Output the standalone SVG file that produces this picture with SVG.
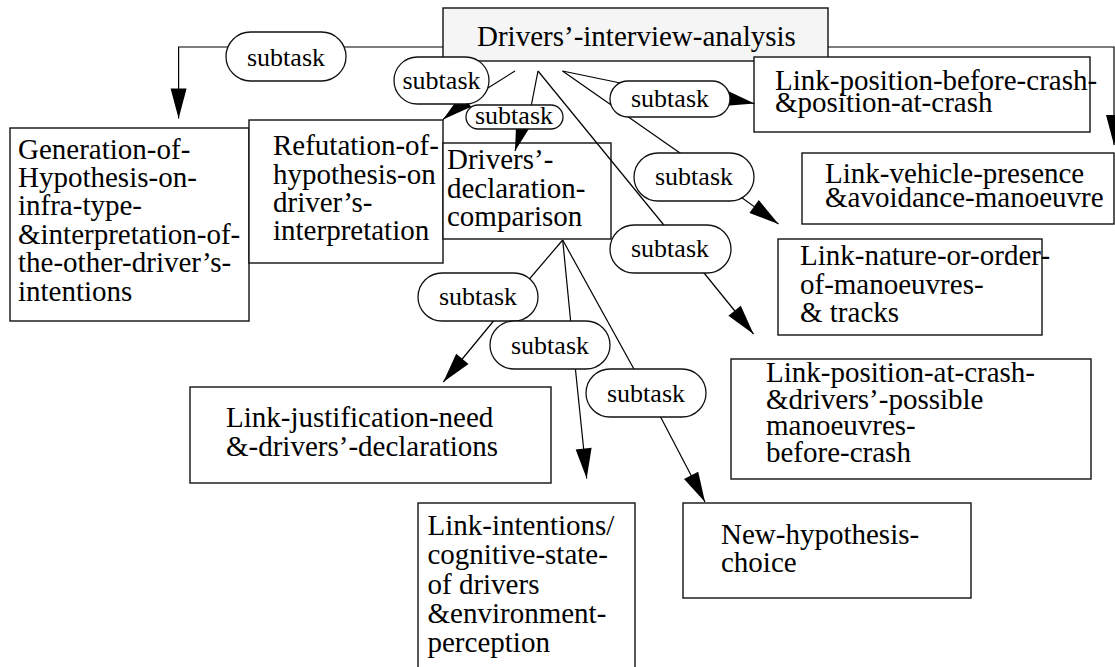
<svg xmlns="http://www.w3.org/2000/svg" width="1115" height="667" viewBox="0 0 1115 667">
<style>
.box{fill:#fff;stroke:#111;stroke-width:1.4}
.root{fill:#f5f5f5;stroke:#111;stroke-width:1.4}
.t{font-family:'Liberation Serif','DejaVu Serif',serif;font-size:29px;fill:#000}
.pl{fill:#fff;stroke:#111;stroke-width:1.3}
.pt{font-family:'Liberation Serif','DejaVu Serif',serif;font-size:26px;fill:#000;text-anchor:middle}
.c{fill:none;stroke:#000;stroke-width:1.2}
.a{marker-end:url(#ah)}
</style>
<defs>
<marker id="ah" markerUnits="userSpaceOnUse" markerWidth="30" markerHeight="16" refX="30" refY="8" orient="auto" overflow="visible">
<path d="M0,0 L30,8 L0,16 z" fill="#000"/>
</marker>
</defs>
<rect width="1115" height="667" fill="#fff"/>
<g id="root">
<rect class="root" x="443" y="8" width="385" height="53"/>
<text class="t" font-family="Liberation Serif, serif" x="477" y="46">Drivers’-interview-analysis</text>
</g>
<g id="gen">
<rect class="box" x="10" y="128" width="239" height="193"/>
<text class="t" font-family="Liberation Serif, serif"><tspan x="18" y="159">Generation-of-</tspan><tspan x="18" y="187">Hypothesis-on-</tspan><tspan x="18" y="215">infra-type-</tspan><tspan x="18" y="243.5">&amp;interpretation-of-</tspan><tspan x="18" y="272">the-other-driver’s-</tspan><tspan x="18" y="301">intentions</tspan></text>
</g>
<g id="refutation">
<rect class="box" x="249" y="120" width="194" height="143"/>
<text class="t" font-family="Liberation Serif, serif"><tspan x="273" y="155">Refutation-of-</tspan><tspan x="273" y="183.5">hypothesis-on</tspan><tspan x="273" y="211.5">driver’s-</tspan><tspan x="273" y="239.5">interpretation</tspan></text>
</g>
<g id="declaration">
<rect class="box" x="443" y="143" width="168" height="96"/>
<text class="t" font-family="Liberation Serif, serif"><tspan x="447" y="168.5">Drivers’-</tspan><tspan x="447" y="197.5">declaration-</tspan><tspan x="447" y="226">comparison</tspan></text>
</g>
<g id="link-position">
<rect class="box" x="754" y="57" width="336" height="75"/>
<text class="t" font-family="Liberation Serif, serif"><tspan x="775" y="90">Link-position-before-crash-</tspan><tspan x="775" y="112">&amp;position-at-crash</tspan></text>
</g>
<g id="link-vehicle">
<rect class="box" x="802" y="153" width="312" height="71"/>
<text class="t" font-family="Liberation Serif, serif"><tspan x="825" y="183">Link-vehicle-presence</tspan><tspan x="825" y="206.5">&amp;avoidance-manoeuvre</tspan></text>
</g>
<g id="link-nature">
<rect class="box" x="778" y="239" width="264" height="96"/>
<text class="t" font-family="Liberation Serif, serif"><tspan x="800" y="264.5">Link-nature-or-order-</tspan><tspan x="800" y="293.5">of-manoeuvres-</tspan><tspan x="800" y="322">&amp; tracks</tspan></text>
</g>
<g id="link-position-at-crash">
<rect class="box" x="731" y="359" width="360" height="120"/>
<text class="t" font-family="Liberation Serif, serif"><tspan x="766" y="382">Link-position-at-crash-</tspan><tspan x="766" y="409">&amp;drivers’-possible</tspan><tspan x="766" y="435">manoeuvres-</tspan><tspan x="766" y="461.5">before-crash</tspan></text>
</g>
<g id="link-justification">
<rect class="box" x="190" y="387" width="361" height="96"/>
<text class="t" font-family="Liberation Serif, serif"><tspan x="226" y="427">Link-justification-need</tspan><tspan x="226" y="456">&amp;-drivers’-declarations</tspan></text>
</g>
<g id="link-intentions">
<rect class="box" x="418" y="503" width="217" height="170"/>
<text class="t" font-family="Liberation Serif, serif"><tspan x="427.5" y="535">Link-intentions/</tspan><tspan x="427.5" y="564">cognitive-state-</tspan><tspan x="427.5" y="593.5">of drivers</tspan><tspan x="427.5" y="623">&amp;environment-</tspan><tspan x="427.5" y="651.5">perception</tspan></text>
</g>
<g id="new-hypothesis">
<rect class="box" x="683" y="503" width="288" height="95"/>
<text class="t" font-family="Liberation Serif, serif"><tspan x="721" y="543.5">New-hypothesis-</tspan><tspan x="721" y="572">choice</tspan></text>
</g>
<g id="connectors">
<polyline class="c a" points="443,47 178.6,47 178.6,118.5"/>
<polyline class="c a" points="828,47 1114,47 1114,145"/>
<path class="c" d="M515,71 L480,93"/>
<path class="c a" d="M468,99 L443,119.5"/>
<path class="c" d="M538,71 L530,112"/>
<path class="c a" d="M524,122 L515,151"/>
<path class="c" d="M562.5,71 L630,85"/>
<path class="c a" d="M724,98 L754.5,103.5"/>
<path class="c" d="M562.5,71 L690,160"/>
<path class="c a" d="M738,195 L778.5,224"/>
<path class="c" d="M538,71 L672,235"/>
<path class="c a" d="M700,268 L753.5,334"/>
<path class="c" d="M562.7,240 L520,290"/>
<path class="c a" d="M496,318 L443.3,382"/>
<path class="c" d="M562.7,240 L571.5,330"/>
<path class="c a" d="M575,365 L586.7,478.5"/>
<path class="c" d="M562.7,240 L640,380"/>
<path class="c a" d="M658,412 L705,502"/>
<g id="label-gen">
<rect class="pl" x="226" y="32" width="120" height="49" rx="24.5"/>
<text class="pt" font-family="Liberation Serif, serif" x="286" y="66">subtask</text>
</g>
<g id="label-refutation">
<rect class="pl" x="394" y="57" width="95" height="47" rx="23.5"/>
<text class="pt" font-family="Liberation Serif, serif" x="441.5" y="89">subtask</text>
</g>
<g id="label-declaration">
<rect class="pl" x="466" y="105" width="97" height="24" rx="12"/>
<text class="pt" font-family="Liberation Serif, serif" x="514" y="124">subtask</text>
</g>
<g id="label-link-position">
<rect class="pl" x="610" y="81" width="120" height="36" rx="18"/>
<text class="pt" font-family="Liberation Serif, serif" x="670" y="106.5">subtask</text>
</g>
<g id="label-link-vehicle">
<rect class="pl" x="634" y="153" width="120" height="48" rx="24"/>
<text class="pt" font-family="Liberation Serif, serif" x="694" y="185">subtask</text>
</g>
<g id="label-link-nature">
<rect class="pl" x="610" y="225" width="121" height="48" rx="24"/>
<text class="pt" font-family="Liberation Serif, serif" x="670" y="257">subtask</text>
</g>
<g id="label-justification">
<rect class="pl" x="418" y="273" width="120" height="48" rx="24"/>
<text class="pt" font-family="Liberation Serif, serif" x="478" y="305">subtask</text>
</g>
<g id="label-intentions">
<rect class="pl" x="490" y="321" width="120" height="48" rx="24"/>
<text class="pt" font-family="Liberation Serif, serif" x="550" y="353.5">subtask</text>
</g>
<g id="label-new-hypothesis">
<rect class="pl" x="586" y="369" width="120" height="48" rx="24"/>
<text class="pt" font-family="Liberation Serif, serif" x="646" y="401.5">subtask</text>
</g>
</g>
</svg>
